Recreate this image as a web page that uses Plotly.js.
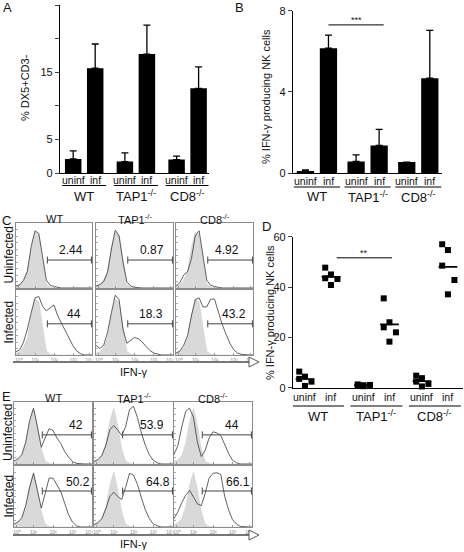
<!DOCTYPE html>
<html><head><meta charset="utf-8">
<script src="https://cdn.plot.ly/plotly-3.0.1.min.js"></script>
<style>body{margin:0;background:#fff}</style></head>
<body><div id="chart" style="width:464px;height:552px"></div>
<script>
// ---------------- DATA ----------------
const groups = ['WT', 'TAP1<sup>-/-</sup>', 'CD8<sup>-/-</sup>'];
const conds = ['uninf', 'inf'];
// Panel A: % DX5+CD3-
const dx5Mean = [2.1, 15.6, 1.7, 17.7, 2.0, 12.6];
const dx5Err  = [1.2, 3.6, 1.3, 4.3, 0.5, 3.2];
// Panel B: % IFN-g producing NK cells
const ifnMean = [0.1, 6.15, 0.57, 1.36, 0.54, 4.67];
const ifnErr  = [0.05, 0.65, 0.32, 0.79, 0, 2.36];
// Panel D: individual mice
const dWTUn   = [6.4, 4.4, 3.5, 2.4, 0.7];
const dWTInf  = [47.7, 45.0, 43.5, 43.2, 40.8];
const dTAPUn  = [1.3, 1.0, 0.8, 1.1, 0.6];
const dTAPInf = [35.5, 26.0, 24.0, 22.0, 18.3];
const dCD8Un  = [4.8, 3.8, 2.4, 1.5, 0.5];
const dCD8Inf = [57.0, 54.7, 48.5, 42.8, 37.1];
// Flow histograms (log decades 0..4, % of max)
const histBins = [0,0.2,0.4,0.6,0.8,1.0,1.2,1.4,1.6,1.8,2.0,2.2,2.4,2.6,2.8,3.0,3.2,3.4,3.6,3.8,4.0];
const histTicks = ['10⁰','10¹','10²','10³','10⁴'];
const cGray   = [3,5,12,26,62,86,82,40,6,1,0,0,0,0,0,0,0,0,0,0,0];
const cWTUn   = [3,5,12,26,64,88,84,45,12,4,2,1,0,0,0,0,0,0,0,0,0];
const cTAPUn  = [3,5,10,24,60,89,80,40,10,3,1,0,0,0,0,0,0,0,0,0,0];
const cCD8Un  = [3,8,20,25,45,80,88,50,12,4,2,1,0,0,0,0,0,0,0,0,0];
const cWTInf  = [5,8,20,40,65,88,90,75,68,72,77,60,48,36,25,14,6,2,0,0,0];
const cTAPInf = [15,10,15,35,65,92,85,40,18,22,27,25,20,13,7,3,1,0,0,0,0];
const cCD8Inf = [3,6,15,30,60,85,88,74,74,86,86,65,47,32,18,8,3,1,0,0,0];
const eGray   = [4,7,14,33,68,90,62,25,5,1,0,0,0,0,0,0,0,0,0,0,0];
const eWTUn   = [5,8,15,35,70,90,60,27,42,57,54,42,33,20,11,4,1,0,0,0,0];
const eTAPUn  = [4,7,14,30,55,62,55,46,60,88,93,75,50,30,15,6,2,0,0,0,0];
const eCD8Un  = [15,30,60,85,90,75,35,12,22,42,52,50,46,32,17,6,2,0,0,0,0];
const eWTInf  = [5,8,15,35,65,88,60,31,55,80,80,70,58,39,20,8,2,0,0,0,0];
const eTAPInf = [4,7,14,30,50,57,50,45,65,88,85,70,48,28,14,5,2,0,0,0,0];
const eCD8Inf = [14,25,40,52,60,50,38,35,55,80,88,89,86,50,28,12,5,1,0,0,0];
const cPercents = ['2.44','0.87','4.92','44','18.3','43.2'];
const ePercents = ['42','53.9','44','50.2','64.8','66.1'];
const colTitles = ['WT', 'TAP1<sup>-/-</sup>', 'CD8<sup>-/-</sup>'];
const rowTitles = ['Uninfected', 'Infected'];

// ---------------- LAYOUT HELPERS ----------------
const W = 464, H = 552;
const FONT = 'Liberation Sans, Arial, sans-serif';
const fx = px => px / W, fy = py => 1 - py / H;
const posOf = G => [0, 1, G, G + 1, 2 * G, 2 * G + 1];
const posA = posOf(2.35), posB = posOf(2.2), posD = posOf(2.25);
const sfx = n => (n === 1 ? '' : String(n));

const traces = [], shapes = [], ann = [];
const layout = {
  width: W, height: H, margin: {l: 0, r: 0, t: 0, b: 0},
  paper_bgcolor: '#fff', plot_bgcolor: 'rgba(0,0,0,0)', showlegend: false,
  font: {family: FONT, color: '#111', size: 11}
};

function mainAxes(n, xpx, ypx, xr, yr, tickvals, ticktext) {
  layout['xaxis' + sfx(n)] = {domain: [fx(xpx[0]), fx(xpx[1])], range: xr, anchor: 'y' + sfx(n),
    showline: true, linecolor: '#000', linewidth: 1.3, ticks: '', showticklabels: false,
    showgrid: false, zeroline: false};
  layout['yaxis' + sfx(n)] = {domain: [fy(ypx[1]), fy(ypx[0])], range: yr, anchor: 'x' + sfx(n),
    showline: true, linecolor: '#000', linewidth: 1.3, ticks: 'outside', ticklen: 4, tickwidth: 1.3,
    tickvals: tickvals, ticktext: ticktext, tickfont: {size: 11, family: FONT, color: '#111'},
    showgrid: false, zeroline: false};
}
function groupLabels(n, pos, pyCond, pyLine, pyGroup) {
  const xref = 'x' + sfx(n);
  pos.forEach((p, i) => ann.push({xref, yref: 'paper', x: p, y: fy(pyCond), text: conds[i % 2],
    showarrow: false, yanchor: 'middle', font: {size: 10.5}}));
  groups.forEach((g, j) => {
    shapes.push({type: 'line', xref, yref: 'paper', x0: pos[2 * j] - 0.5, x1: pos[2 * j + 1] + 0.5,
      y0: fy(pyLine), y1: fy(pyLine), line: {color: '#000', width: 1}});
    ann.push({xref, yref: 'paper', x: (pos[2 * j] + pos[2 * j + 1]) / 2, y: fy(pyGroup), text: g,
      showarrow: false, yanchor: 'middle', font: {size: 13}});
  });
}
function txt(x, y, text, size, extra) {
  ann.push(Object.assign({xref: 'paper', yref: 'paper', x: fx(x), y: fy(y), text, showarrow: false,
    xanchor: 'center', yanchor: 'middle', font: {size: size, family: FONT, color: '#111'}}, extra || {}));
}

// ---------------- PANEL A ----------------
mainAxes(1, [60, 208.5], [5, 173], [-0.6, 6.15], [0, 25], [0, 5, 10, 15, 20, 25], ['0', '5', '', '15', '', '25']);
traces.push({type: 'bar', x: posA, y: dx5Mean, width: 0.75, marker: {color: '#000'},
  error_y: {type: 'data', symmetric: false, array: dx5Err, arrayminus: dx5Err.map(() => 0),
    color: '#000', thickness: 1.3, width: 3.5}, xaxis: 'x', yaxis: 'y'});
groupLabels(1, posA, 180, 185.5, 196);
txt(25, 88, '% DX5+CD3-', 11, {textangle: -90});
txt(7, 8, 'A', 13);

// ---------------- PANEL B ----------------
mainAxes(2, [293, 442], [10.7, 173], [-0.54, 5.93], [0, 8], [0, 4, 8], ['0', '4', '8']);
traces.push({type: 'bar', x: posB, y: ifnMean, width: 0.75, marker: {color: '#000'},
  error_y: {type: 'data', symmetric: false, array: ifnErr, arrayminus: ifnErr.map(() => 0),
    color: '#000', thickness: 1.3, width: 3.5}, xaxis: 'x2', yaxis: 'y2'});
groupLabels(2, posB, 181, 187, 197);
shapes.push({type: 'line', xref: 'x2', yref: 'y2', x0: posB[1], x1: posB[3] + 0.2, y0: 7.3, y1: 7.3, line: {color: '#000', width: 1}});
ann.push({xref: 'x2', yref: 'y2', x: (posB[1] + posB[3] + 0.2) / 2, y: 7.3, text: '***', showarrow: false, yanchor: 'bottom', yshift: -2, font: {size: 9}});
txt(266, 97, '% IFN-γ producing NK cells', 11, {textangle: -90});
txt(239, 8, 'B', 13);

// ---------------- PANEL D ----------------
mainAxes(3, [293, 463], [236.7, 387.7], [-0.46, 6.08], [0, 60], [0, 20, 40, 60], ['0', '20', '40', '60']);
const dCols = [dWTUn, dWTInf, dTAPUn, dTAPInf, dCD8Un, dCD8Inf];
const jit = [-0.22, 0, -0.22, 0.25, 0];
dCols.forEach((vals, i) => {
  traces.push({type: 'scatter', mode: 'markers', x: vals.map((v, k) => posD[i] + jit[k % jit.length]), y: vals,
    marker: {symbol: 'square', size: 6, color: '#000'}, xaxis: 'x3', yaxis: 'y3', cliponaxis: false});
  const m = vals.reduce((a, b) => a + b, 0) / vals.length;
  traces.push({type: 'scatter', mode: 'lines', x: [posD[i] - 0.36, posD[i] + 0.36], y: [m, m],
    line: {color: '#000', width: 1.6}, xaxis: 'x3', yaxis: 'y3'});
});
groupLabels(3, posD, 397, 406, 416);
shapes.push({type: 'line', xref: 'x3', yref: 'y3', x0: posD[1] + 0.22, x1: posD[3] + 0.1, y0: 51.6, y1: 51.6, line: {color: '#000', width: 1}});
ann.push({xref: 'x3', yref: 'y3', x: (posD[1] + 0.22 + posD[3] + 0.1) / 2, y: 51.6, text: '**', showarrow: false, yanchor: 'bottom', yshift: -2, font: {size: 9}});
txt(270, 313, '% IFN-γ producing NK cells', 11, {textangle: -90});
txt(266, 226, 'D', 13);

// ---------------- FLOW PANELS C & E ----------------
const flowSets = [
  {gray: cGray, curves: [cWTUn, cTAPUn, cCD8Un, cWTInf, cTAPInf, cCD8Inf], pct: cPercents,
   cols: [[16, 92], [96, 173], [176, 253]], rows: [[223, 288], [290, 355]],
   gateStart: 1.65, gateY: [43, 48], labY: [58, 63], labX: [2.9, 2.9, 2.65, 3.05, 2.86, 3.0],
   titleY: 219, arrowY: 362, ifnY: 372, letter: 'C', letterY: 220},
  {gray: eGray, curves: [eWTUn, eTAPUn, eCD8Un, eWTInf, eTAPInf, eCD8Inf], pct: ePercents,
   cols: [[14, 92], [94, 173], [174, 252]], rows: [[402, 464], [466, 527]],
   gateStart: 1.45, gateY: [47, 59], labY: [63, 74], labX: [3.2, 2.94, 2.97, 3.28, 3.24, 3.28],
   titleY: 398, arrowY: 535, ifnY: 544, letter: 'E', letterY: 396}
];
let ax = 4;
flowSets.forEach(set => {
  set.cols.forEach((c, j) => txt((c[0] + c[1]) / 2, set.titleY, colTitles[j], 11));
  set.rows.forEach((r, i) => txt(8, (r[0] + r[1]) / 2, rowTitles[i], 12, {textangle: -90}));
  for (let i = 0; i < 2; i++) {
    for (let j = 0; j < 3; j++) {
      const k = i * 3 + j, n = ax++;
      const xa = 'x' + n, ya = 'y' + n;
      const bottom = i === 1;
      layout['xaxis' + n] = {domain: [fx(set.cols[j][0]), fx(set.cols[j][1])], range: [0, 4], anchor: ya,
        showline: true, mirror: true, linecolor: '#8c8c8c', linewidth: 1, showgrid: false, zeroline: false,
        ticks: 'inside', ticklen: 2, tickcolor: '#999', tickvals: [0.15, 1, 2, 3, 3.85],
        ticktext: histTicks, showticklabels: bottom, tickfont: {size: 5, color: '#888'}};
      layout['yaxis' + n] = {domain: [fy(set.rows[i][1]), fy(set.rows[i][0])], range: [0, 100], anchor: xa,
        showline: true, mirror: true, linecolor: '#8c8c8c', linewidth: 1, showgrid: false, zeroline: false,
        ticks: 'inside', ticklen: 2, tickcolor: '#aaa', dtick: 10, showticklabels: false};
      traces.push({type: 'scatter', mode: 'lines', x: histBins, y: set.gray, fill: 'tozeroy',
        fillcolor: '#d9d9d9', line: {color: '#cccccc', width: 0.5}, xaxis: xa, yaxis: ya});
      traces.push({type: 'scatter', mode: 'lines', x: histBins, y: set.curves[k],
        line: {color: '#3a3a3a', width: 0.8}, xaxis: xa, yaxis: ya});
      const gy = set.gateY[i];
      traces.push({type: 'scatter', mode: 'lines+markers', x: [set.gateStart, 3.97], y: [gy, gy],
        line: {color: '#444', width: 1}, marker: {symbol: 'line-ns-open', size: 5, color: '#444', line: {width: 1, color: '#444'}},
        xaxis: xa, yaxis: ya, cliponaxis: false});
      ann.push({xref: xa, yref: ya, x: set.labX[k], y: set.labY[i], text: set.pct[k], showarrow: false,
        yanchor: 'middle', font: {size: 12, family: FONT, color: '#111'}});
    }
  }
  const ay = set.arrowY;
  shapes.push({type: 'line', xref: 'paper', yref: 'paper', x0: fx(13), x1: fx(249), y0: fy(ay), y1: fy(ay), line: {color: '#777', width: 2}});
  shapes.push({type: 'path', xref: 'paper', yref: 'paper',
    path: `M ${fx(249)},${fy(ay - 5)} L ${fx(259)},${fy(ay)} L ${fx(249)},${fy(ay + 5)} Z`,
    fillcolor: '#fff', line: {color: '#555', width: 1}});
  txt(133, set.ifnY, 'IFN-γ', 11);
  txt(6, set.letterY, set.letter, 13);
});

layout.shapes = shapes;
layout.annotations = ann;
Plotly.newPlot('chart', traces, layout, {displayModeBar: false, responsive: false});
</script>
</body></html>
